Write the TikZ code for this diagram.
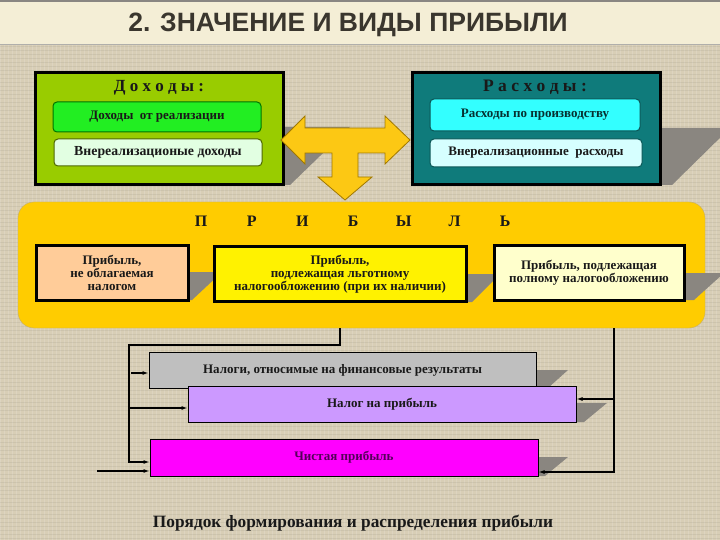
\documentclass[tikz,border=0pt]{standalone}
\usepackage{fontspec}
\setmainfont{Liberation Serif}
\newfontfamily\headfont{Liberation Sans}
\usetikzlibrary{positioning, arrows.meta}

\definecolor{bgbeige}{HTML}{D8CEB6}
\definecolor{headcream}{HTML}{F4EED6}
\definecolor{headtext}{HTML}{3A362E}
\definecolor{shadowgray}{HTML}{8A8680}
\definecolor{olivegreen}{HTML}{99CC00}
\definecolor{brightgreen}{HTML}{22EE22}
\definecolor{palegreen}{HTML}{E2FFE2}
\definecolor{darkteal}{HTML}{0F7B7B}
\definecolor{brightcyan}{HTML}{33FFFF}
\definecolor{palecyan}{HTML}{D6FFFF}
\definecolor{gold}{HTML}{FFCC00}
\definecolor{arrowgold}{HTML}{FCC814}
\definecolor{goldedge}{HTML}{A07800}
\definecolor{peach}{HTML}{FFCC99}
\definecolor{lightyellow}{HTML}{FFFFCC}
\definecolor{lilac}{HTML}{CC99FF}
\definecolor{pinkmagenta}{HTML}{FF00FF}
\definecolor{purpletext}{HTML}{55005A}

\tikzset{
  txt/.style={font=\bfseries\fontsize{13}{13}\selectfont, text=black!90, align=center},
  bigbox/.style={draw=black, line width=3pt, minimum width=248pt, minimum height=112pt},
  smallbox/.style={txt, rounded corners=4pt, line width=1pt, minimum height=30pt},
  profitbox/.style={txt, draw=black, line width=3pt, minimum height=55pt},
  flowbox/.style={txt, draw=black, line width=1pt, minimum width=388pt, minimum height=36pt},
  shadowpoly/.style={fill=shadowgray},
  conn/.style={line width=1.1pt, -{Latex[length=6pt,width=4pt]}}
}

\begin{document}
\begin{tikzpicture}[x=1pt, y=-1pt]
    \useasboundingbox (0,0) rectangle (720,540);
    \clip (0,0) rectangle (720,540);

    % Background and title
    \fill[bgbeige] (0,0) rectangle (720,540);
    \foreach \x in {0,4,...,720} \draw[white, opacity=0.14] (\x,44) -- (\x,540);
    \foreach \y in {46,50,...,540} \draw[black, opacity=0.05] (0,\y) -- (720,\y);
    \fill[headcream] (0,0) rectangle (720,44);
    \draw[headtext!60, line width=1.5pt] (0,1) -- (720,1);
    \draw[headtext!40, line width=0.8pt] (0,44) -- (720,44);
    \node[font=\headfont\bfseries\fontsize{26.5}{28}\selectfont, text=headtext] (title) at (348,25) {2. ЗНАЧЕНИЕ И ВИДЫ ПРИБЫЛИ};

    % Shadows
    \fill[shadowpoly] (283,127) -- (350,127) -- (290,185) -- (283,185) -- cycle;
    \fill[shadowpoly] (660,128) -- (730,128) -- (672,185) -- (660,185) -- cycle;

    % Income and expenses
    \node[bigbox, fill=olivegreen] (dokh) at (159,129) {};
    \node[txt, font=\bfseries\fontsize{17}{17}\selectfont] (dokhT) at (159,88) {Д о х о д ы :};
    \node[smallbox, fill=brightgreen, draw=green!45!black, minimum width=208pt] (dokh1) at (157,117) {Доходы~ от реализации};
    \node[smallbox, fill=palegreen, draw=olivegreen!50!black, minimum width=208pt, minimum height=27pt, font=\bfseries\fontsize{13.8}{14}\selectfont] (dokh2) at (158,152.5) {Внереализационые доходы};

    \node[bigbox, fill=darkteal] (rash) at (536,129) {};
    \node[txt, font=\bfseries\fontsize{17.5}{17}\selectfont] (rashT) at (535,87) {Р а с х о д ы :};
    \node[smallbox, fill=brightcyan, draw=darkteal!70!black, minimum width=210pt, minimum height=32pt, text=darkteal!40!black] (rash1) at (535,115) {Расходы по производству};
    \node[smallbox, fill=palecyan, draw=darkteal!70!black, minimum width=212pt, minimum height=28pt] (rash2) at (536,153) {Внереализационные~ расходы};

    % T arrow
    \filldraw[fill=arrowgold, draw=goldedge, line width=0.8pt]
        (281,140) -- (305,116) -- (305,128) -- (385,128) -- (385,116) -- (410,140)
        -- (385,164) -- (385,153) -- (358,153) -- (358,177) -- (372,177) -- (345,200)
        -- (318,177) -- (332,177) -- (332,153) -- (305,153) -- (305,164) -- cycle;

    % Profit
    \node[draw=goldedge!60, fill=gold, rounded corners=16pt, minimum width=687pt, minimum height=126pt] (prib) at (361.5,265) {};
    \foreach \l [count=\i from 0] in {П,Р,И,Б,Ы,Л,Ь}
        \node[txt, font=\bfseries\fontsize{16}{16}\selectfont] (prib\i) at (201+50.7*\i,221) {\l};

    \fill[shadowpoly] (188,272) -- (222,272) -- (192,300) -- (188,300) -- cycle;
    \fill[shadowpoly] (466,274) -- (500,274) -- (472,302) -- (466,302) -- cycle;
    \fill[shadowpoly] (684,273) -- (724,273) -- (694,300) -- (684,300) -- cycle;
    \node[profitbox, fill=peach, minimum width=152pt] (pA) at (112,272.5) {Прибыль,\\не облагаемая\\налогом};
    \node[profitbox, fill=yellow, minimum width=252pt] (pB) at (340,274) {Прибыль,\\подлежащая льготному\\налогообложению (при их наличии)};
    \node[profitbox, fill=lightyellow, minimum width=190pt] (pC) at (589,272.5) {Прибыль, подлежащая\\полному налогообложению};

    % Distribution
    \fill[shadowpoly] (536,370) -- (568,370) -- (548,388) -- (536,388) -- cycle;
    \fill[shadowpoly] (576,403) -- (607,403) -- (584,422) -- (576,422) -- cycle;
    \fill[shadowpoly] (538,457) -- (568,457) -- (545,476) -- (538,476) -- cycle;
    \node[flowbox, fill=gray!50, minimum width=387pt] (nalogi) at (342.5,370) {Налоги, относимые на финансовые результаты};
    \node[flowbox, fill=lilac] (nprib) at (382,404) {Налог на прибыль};
    \node[flowbox, fill=pinkmagenta, minimum height=37pt, text=purpletext] (chist) at (344,457.5) {Чистая прибыль};

    % Connectors
    \coordinate (pl) at (340,328);
    \coordinate (lcorner) at (129,345);
    \draw[conn] (pl) |- (lcorner) |- ([yshift=-4.5pt]chist.west);
    \coordinate (t1) at (131,373);
    \draw[conn] (t1) -- (t1 -| nalogi.west);
    \coordinate (t2) at (129,408);
    \draw[conn] (t2) -- (t2 -| nprib.west);
    \coordinate (t3) at (97,471);
    \draw[conn] (t3) -- (t3 -| chist.west);
    \coordinate (pr) at (614,328);
    \coordinate (rcorner) at (614,472);
    \draw[conn] (pr) -- (rcorner) -- (rcorner -| chist.east);
    \coordinate (t4) at (614,399);
    \draw[conn] (t4) -- (t4 -| nprib.east);

    \node[txt, font=\bfseries\fontsize{17.3}{17}\selectfont] (caption) at (353,523) {Порядок формирования и распределения прибыли};
\end{tikzpicture}
\end{document}
